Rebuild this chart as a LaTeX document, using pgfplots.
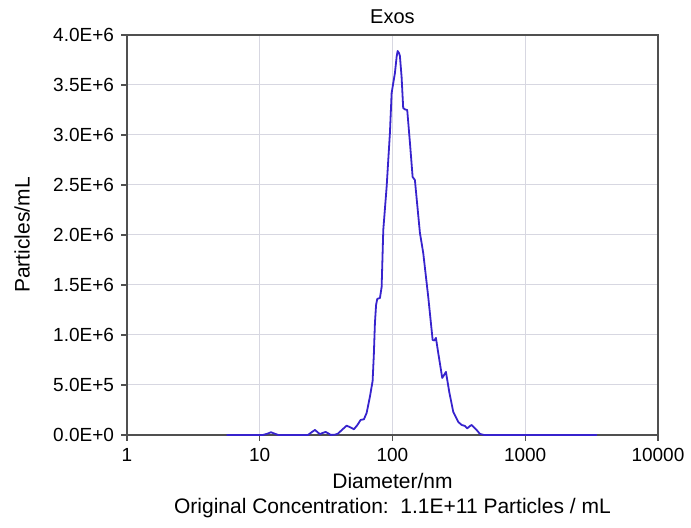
\documentclass[border=0pt]{standalone}
\usepackage{fontspec}
\setmainfont{Liberation Sans}
\usepackage{pgfplots}
\pgfplotsset{compat=1.18}
\definecolor{curve}{RGB}{55,35,205}
\definecolor{gridc}{RGB}{215,215,225}
\definecolor{framec}{RGB}{80,80,80}
\begin{document}
\begin{tikzpicture}
\begin{axis}[
  name=ax,
  scale only axis,
  width=265.5pt, height=200pt,
  xmode=log, log basis x=10,
  xmin=1, xmax=10000, ymin=0, ymax=4e6,
  xtick={1,10,100,1000,10000},
  xticklabels={1,10,100,1000,10000},
  minor xtick={},
  ytick={0,0.5e6,1e6,1.5e6,2e6,2.5e6,3e6,3.5e6,4e6},
  yticklabels={0.0E+0,5.0E+5,1.0E+6,1.5E+6,2.0E+6,2.5E+6,3.0E+6,3.5E+6,4.0E+6},
  scaled y ticks=false,
  /pgf/number format/assume math mode=true,
  tick label style={font=\fontsize{9.5}{11}\selectfont, text=black},
  tick align=outside,
  major tick length=3pt,
  tick style={framec, line width=0.6pt},
  xtick pos=bottom, ytick pos=left,
  grid=major,
  major grid style={gridc, line width=0.5pt},
  axis line style={framec, line width=0.9pt},
  clip=false,
]
\addplot[curve, line width=0.9pt, line join=round] coordinates {
(5.64,0) (10.6,0) (11.4,12000) (12.16,27000) (13.0,12000) (13.8,0)
(23.1,0) (24.8,30000) (26.1,50000) (27.4,25000) (28.4,8000) (29.8,20000) (31.4,30000) (32.9,15000) (34.4,0)
(37.0,3000) (38.8,12000) (42.0,55000) (45.2,93000) (48.3,75000) (51.3,57000) (54.5,100000)
(57.6,150000) (61.0,157000) (63.9,220000) (67.6,380000) (70.9,540000) (72.4,800000)
(73.8,1120000) (75.3,1300000) (76.8,1360000) (80.5,1370000) (82.9,1480000) (85.3,2050000)
(90.4,2480000) (95.7,3020000) (98.6,3420000) (104.4,3620000) (107.5,3780000) (109.4,3840000) (112,3820000) (113.8,3790000)
(117.2,3580000) (120.5,3270000) (124.5,3255000) (129.2,3250000) (135.5,2920000) (141.9,2580000)
(147.6,2550000) (161.1,2020000) (170.6,1820000) (186.1,1380000) (200.8,950000) (207,945000)
(212.6,970000) (221.3,820000) (237.2,570000) (245,600000) (252.9,630000) (267.9,430000) (287.2,230000)
(313.2,130000) (332.2,100000) (351.7,90000) (365.8,65000) (380,85000) (395,100000) (412,75000)
(430.7,50000) (456,10000) (490,0) (3470,0)
};
\node[font=\fontsize{10}{12}\selectfont] at ([yshift=9pt]rel axis cs:0.5,1) {Exos};
\node[font=\fontsize{10.5}{12}\selectfont] at ([yshift=-23pt]rel axis cs:0.5,0) {Diameter/nm};
\node[font=\fontsize{10.5}{12}\selectfont] at ([yshift=-36.5pt]rel axis cs:0.5,0) {Original Concentration:\ \ 1.1E+11 Particles / mL};
\node[font=\fontsize{10.5}{12}\selectfont, rotate=90] at ([xshift=-52.5pt]rel axis cs:0,0.5) {Particles/mL};
\end{axis}
\path (ax.south west) ++(-63.5pt,-46.5pt) rectangle ++(345.5pt,264pt);
\end{tikzpicture}
\end{document}
